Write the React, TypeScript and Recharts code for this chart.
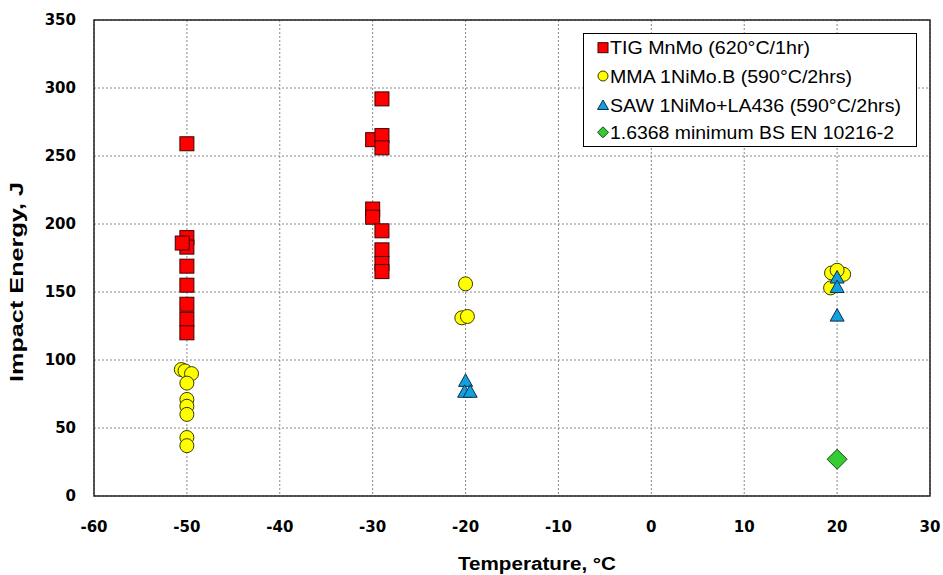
import React from 'react';
import { ScatterChart, Scatter, XAxis, YAxis, CartesianGrid, ReferenceArea, Legend } from 'recharts';

// ---- data ----
const xTicks = [-60, -50, -40, -30, -20, -10, 0, 10, 20, 30];
const yTicks = [0, 50, 100, 150, 200, 250, 300, 350];

const tigTemp = [-50, -50, -50, -50, -50, -50, -50, -50, -50.5, -29, -30, -29, -29, -30, -30, -29, -29, -29, -29];
const tigEnergy = [259, 190, 183, 169, 155, 141, 130, 120, 186, 292, 262, 265, 256, 211, 205, 195, 181, 171, 165];

const mmaTemp = [-50.6, -50.2, -49.5, -50, -50, -50, -50, -50, -50, -20, -20.4, -19.8, 19.4, 20.7, 20, 19.3];
const mmaEnergy = [93, 92, 90, 83, 71, 66, 60, 43, 37, 156, 131, 132, 164, 163, 166, 153];

const sawTemp = [-20, -20.1, -19.5, 20, 20, 20];
const sawEnergy = [85, 77, 77, 161, 154, 133];

const minTemp = [20];
const minEnergy = [27];

const legendLabels = [
  'TIG MnMo (620°C/1hr)',
  'MMA 1NiMo.B (590°C/2hrs)',
  'SAW 1NiMo+LA436 (590°C/2hrs)',
  '1.6368 minimum BS EN 10216-2',
];

const toPoints = (xs: number[], ys: number[]) => xs.map((x, i) => ({ x, y: ys[i] }));
const tigData = toPoints(tigTemp, tigEnergy);
const mmaData = toPoints(mmaTemp, mmaEnergy);
const sawData = toPoints(sawTemp, sawEnergy);
const minData = toPoints(minTemp, minEnergy);

// ---- styles ----
const RED = '#FF0000';
const YELLOW = '#FFFF00';
const BLUE = '#14A0DC';
const GREEN = '#33CC33';

const SquareShape = (p: any) => (
  <rect x={p.cx - 7} y={p.cy - 7} width={14} height={14} fill={RED} stroke="#400000" strokeWidth={1} />
);
const CircleShape = (p: any) => (
  <circle cx={p.cx} cy={p.cy} r={7} fill={YELLOW} stroke="#3a3a00" strokeWidth={1} />
);
const TriangleShape = (p: any) => (
  <polygon
    points={`${p.cx},${p.cy - 6.5} ${p.cx + 7},${p.cy + 6} ${p.cx - 7},${p.cy + 6}`}
    fill={BLUE}
    stroke="#0a3050"
    strokeWidth={1}
  />
);
const DiamondShape = (p: any) => (
  <polygon
    points={`${p.cx},${p.cy - 10} ${p.cx + 10},${p.cy} ${p.cx},${p.cy + 10} ${p.cx - 10},${p.cy}`}
    fill={GREEN}
    stroke="#1a4a1a"
    strokeWidth={1}
  />
);

const legendWidths = [200, 242, 291, 284];

const LegendBox = () => {
  const rows = [14.7, 43, 72, 99.3];
  const mx = 20;
  return (
    <svg width={334} height={114} style={{ display: 'block' }}>
      <rect x={0.5} y={0.5} width={333} height={113} fill="#fff" stroke="#000" strokeWidth={1} />
      <rect x={mx - 5} y={rows[0] - 5} width={10} height={10} fill={RED} stroke="#400000" strokeWidth={1} />
      <circle cx={mx} cy={rows[1]} r={5} fill={YELLOW} stroke="#3a3a00" strokeWidth={1} />
      <polygon
        points={`${mx},${rows[2] - 5} ${mx + 5.5},${rows[2] + 4.5} ${mx - 5.5},${rows[2] + 4.5}`}
        fill={BLUE}
        stroke="#0a3050"
        strokeWidth={1}
      />
      <polygon
        points={`${mx},${rows[3] - 5.5} ${mx + 5.5},${rows[3]} ${mx},${rows[3] + 5.5} ${mx - 5.5},${rows[3]}`}
        fill={GREEN}
        stroke="#1a4a1a"
        strokeWidth={1}
      />
      {legendLabels.map((t, i) => (
        <text
          key={t}
          x={27}
          y={rows[i] + 6.5}
          fontFamily="'Liberation Sans', Arial, sans-serif"
          fontSize={18}
          fill="#000"
          textLength={legendWidths[i]}
          lengthAdjust="spacingAndGlyphs"
        >
          {t}
        </text>
      ))}
    </svg>
  );
};

const XTitle = () => (
  <text
    x={537}
    y={570}
    textAnchor="middle"
    fontFamily="'Liberation Sans', Arial, sans-serif"
    fontWeight="bold"
    fontSize={18}
    fill="#000"
    textLength={158}
    lengthAdjust="spacingAndGlyphs"
  >
    Temperature, °C
  </text>
);

const YTitle = () => (
  <text
    x={23}
    y={282}
    transform="rotate(-90, 23, 282)"
    textAnchor="middle"
    fontFamily="'Liberation Sans', Arial, sans-serif"
    fontWeight="bold"
    fontSize={18}
    fill="#000"
    textLength={200}
    lengthAdjust="spacingAndGlyphs"
  >
    Impact Energy, J
  </text>
);

const tickStyle = {
  fontFamily: "'DejaVu Sans', Verdana, sans-serif",
  fontWeight: 'bold' as const,
  fontSize: 15,
  fill: '#000',
};

export default function App() {
  return (
    <div style={{ position: 'absolute', left: 0, top: 0, width: 943, height: 575, background: '#fff' }}>
      <ScatterChart width={943} height={575} margin={{ top: 20, right: 13, bottom: 29, left: 34 }}>
        <CartesianGrid stroke="#8a8a8a" strokeDasharray="2 2" strokeWidth={1} />
        <XAxis
          type="number"
          dataKey="x"
          domain={[-60, 30]}
          ticks={xTicks}
          interval={0}
          allowDataOverflow
          height={50}
          axisLine={false}
          tickLine={false}
          tickSize={0}
          tickMargin={25}
          tick={tickStyle}
          label={{ content: () => <XTitle /> }}
        />
        <YAxis
          type="number"
          dataKey="y"
          domain={[0, 350]}
          ticks={yTicks}
          interval={0}
          allowDataOverflow
          width={60}
          axisLine={false}
          tickLine={false}
          tickSize={0}
          tickMargin={18}
          tick={tickStyle}
          label={{ content: () => <YTitle /> }}
        />
        <ReferenceArea
          x1={-60}
          x2={30}
          y1={0}
          y2={350}
          fill="none"
          fillOpacity={0}
          stroke="#222"
          strokeWidth={1.5}
          ifOverflow="visible"
        />
        <Scatter name="TIG" data={tigData} shape={SquareShape} isAnimationActive={false} />
        <Scatter name="MMA" data={mmaData} shape={CircleShape} isAnimationActive={false} />
        <Scatter name="SAW" data={sawData} shape={TriangleShape} isAnimationActive={false} />
        <Scatter name="MIN" data={minData} shape={DiamondShape} isAnimationActive={false} />
        <Legend
          layout="horizontal"
          verticalAlign="middle"
          align="center"
          wrapperStyle={{ position: 'absolute', left: 583, top: 33, width: 334, height: 114 }}
          content={() => <LegendBox />}
        />
      </ScatterChart>
    </div>
  );
}
